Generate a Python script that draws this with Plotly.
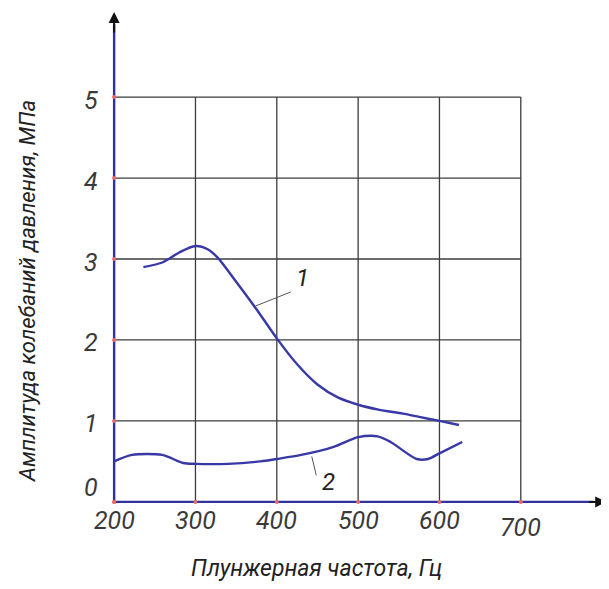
import plotly.graph_objects as go

# ---- data ----
x_ticks = [200, 300, 400, 500, 600, 700]
y_ticks = [0, 1, 2, 3, 4, 5]
x_tick_labels = ["200", "300", "400", "500", "600", "700"]
y_tick_labels = ["0", "1", "2", "3", "4", "5"]

curve1_x = [236, 260, 280, 300, 315, 327, 350, 375, 400, 425, 450, 475, 500, 525, 555, 575, 600, 624]
curve1_y = [2.90, 2.96, 3.08, 3.16, 3.12, 3.02, 2.72, 2.38, 2.02, 1.70, 1.45, 1.29, 1.20, 1.14, 1.09, 1.05, 1.00, 0.95]

curve2_x = [200, 222, 259, 285, 300, 340, 380, 400, 430, 470, 500, 524, 540, 572, 586, 600, 628]
curve2_y = [0.50, 0.58, 0.58, 0.48, 0.47, 0.47, 0.50, 0.53, 0.58, 0.68, 0.80, 0.81, 0.74, 0.53, 0.53, 0.60, 0.74]

x_title = "Плунжерная частота, Гц"
y_title = "Амплитуда колебаний давления, МПа"

AXIS_BLUE = "#30309e"
CURVE_BLUE = "#3838a6"
GRID = "#3c3c3c"
TXT = "#3a3a3a"
FONT = "Roboto"

fig = go.Figure()

# grid lines
shapes = []
for xv in x_ticks[1:]:
    shapes.append(dict(type="line", xref="x", yref="y", x0=xv, x1=xv, y0=0, y1=y_ticks[-1],
                       line=dict(color=GRID, width=1.3), layer="below"))
for yv in y_ticks[1:]:
    shapes.append(dict(type="line", xref="x", yref="y", x0=x_ticks[0], x1=x_ticks[-1], y0=yv, y1=yv,
                       line=dict(color=GRID, width=1.3), layer="below"))
# axis lines
shapes.append(dict(type="line", xref="x", yref="y", x0=x_ticks[0], x1=790, y0=0, y1=0,
                   line=dict(color=AXIS_BLUE, width=2.4), layer="below"))
shapes.append(dict(type="line", xref="x", yref="y", x0=x_ticks[0], x1=x_ticks[0], y0=0, y1=5.9,
                   line=dict(color=AXIS_BLUE, width=2.4), layer="below"))

# curves
fig.add_trace(go.Scatter(x=curve1_x, y=curve1_y, mode="lines",
                         line=dict(color=CURVE_BLUE, width=2.4, shape="spline", smoothing=0.8),
                         showlegend=False, hoverinfo="skip"))
fig.add_trace(go.Scatter(x=curve2_x, y=curve2_y, mode="lines",
                         line=dict(color=CURVE_BLUE, width=2.4, shape="spline", smoothing=0.8),
                         showlegend=False, hoverinfo="skip"))

annotations = []
# arrow heads
annotations.append(dict(x=805, y=0, ax=782, ay=0, xref="x", yref="y", axref="x", ayref="y",
                        text="", showarrow=True, arrowhead=2, arrowsize=1.1, arrowwidth=2, arrowcolor="#111111"))
annotations.append(dict(x=x_ticks[0], y=6.05, ax=x_ticks[0], ay=5.78, xref="x", yref="y", axref="x", ayref="y",
                        text="", showarrow=True, arrowhead=2, arrowsize=1.1, arrowwidth=2, arrowcolor="#111111"))

# tick markers (red dots)
fig.add_trace(go.Scatter(x=x_ticks, y=[0] * len(x_ticks), mode="markers",
                         marker=dict(color="#e86a6a", size=4), showlegend=False, hoverinfo="skip"))
fig.add_trace(go.Scatter(x=[x_ticks[0]] * len(y_ticks), y=y_ticks, mode="markers",
                         marker=dict(color="#e86a6a", size=4), showlegend=False, hoverinfo="skip"))

# tick labels
for xv, lab in zip(x_ticks, x_tick_labels):
    annotations.append(dict(x=xv, y=0, xref="x", yref="y", text="<i>" + lab + "</i>", showarrow=False,
                            yanchor="top", xanchor="center", yshift=-2 if xv != 700 else -9,
                            font=dict(family=FONT, size=25, color=TXT)))
for yv, lab in zip(y_ticks, y_tick_labels):
    annotations.append(dict(x=x_ticks[0], y=yv, xref="x", yref="y", text="<i>" + lab + "</i>", showarrow=False,
                            yanchor="middle", xanchor="right", xshift=-14, yshift=14 if yv == 0 else -3,
                            font=dict(family=FONT, size=25, color=TXT)))

# curve labels with leaders
annotations.append(dict(x=374, y=2.42, ax=419, ay=2.60, xref="x", yref="y", axref="x", ayref="y",
                        text="", showarrow=True, arrowhead=0, arrowwidth=1, arrowcolor="#555555"))
annotations.append(dict(x=431, y=2.77, xref="x", yref="y", text="<i>1</i>", showarrow=False,
                        font=dict(family=FONT, size=24, color="#222222")))
annotations.append(dict(x=443, y=0.56, ax=449, ay=0.31, xref="x", yref="y", axref="x", ayref="y",
                        text="", showarrow=True, arrowhead=0, arrowwidth=1, arrowcolor="#555555"))
annotations.append(dict(x=463, y=0.25, xref="x", yref="y", text="<i>2</i>", showarrow=False,
                        font=dict(family=FONT, size=24, color="#222222")))

# titles
annotations.append(dict(x=0.421, y=0, xref="paper", yref="paper", xanchor="center", yanchor="middle",
                        yshift=-58, text="<i>" + x_title + "</i>", showarrow=False,
                        font=dict(family=FONT, size=23, color="#222222")))
annotations.append(dict(x=-0.158, y=0.436, xref="paper", yref="paper", xanchor="center", yanchor="middle",
                        textangle=-90, text="<i>" + y_title + "</i>", showarrow=False,
                        font=dict(family=FONT, size=22, color="#222222")))

fig.update_layout(
    width=601, height=581,
    margin=dict(l=98, r=2, t=0, b=79),
    paper_bgcolor="white", plot_bgcolor="white",
    xaxis=dict(range=[190, 806], visible=False, showgrid=False, zeroline=False),
    yaxis=dict(range=[-0.1, 6.1], visible=False, showgrid=False, zeroline=False),
    shapes=shapes, annotations=annotations,
)

fig.write_html("out.html")
